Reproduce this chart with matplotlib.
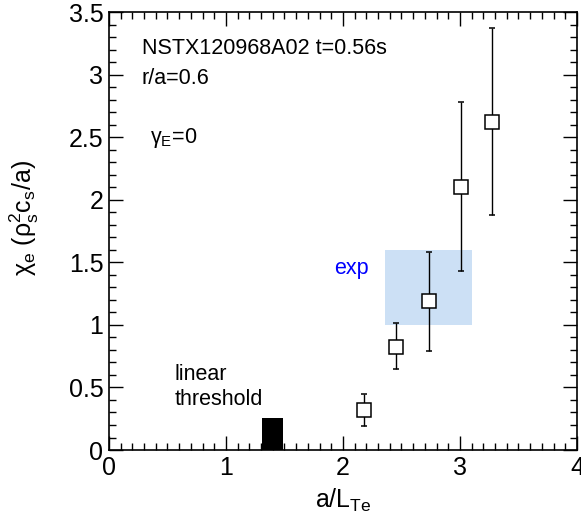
import matplotlib
matplotlib.use("Agg")
import matplotlib.pyplot as plt
import matplotlib.patches as patches
from matplotlib.ticker import MultipleLocator

plt.rcParams['font.family'] = ['Liberation Sans', 'DejaVu Sans']
plt.rcParams['mathtext.fontset'] = 'custom'
plt.rcParams['mathtext.rm'] = 'Liberation Sans'
plt.rcParams['mathtext.it'] = 'Liberation Sans'
plt.rcParams['mathtext.default'] = 'regular'

# data
grad_te = [2.18, 2.456, 2.732, 3.006, 3.276]
chi_e = [0.32, 0.826, 1.19, 2.105, 2.624]
err_lo = [0.194, 0.645, 0.79, 1.43, 1.878]
err_hi = [0.445, 1.013, 1.58, 2.779, 3.376]

exp_x = [2.36, 3.105]
exp_y = [1.0, 1.6]
thr_x = [1.31, 1.49]
thr_y = [0.0, 0.253]

fig = plt.figure(figsize=(5.81, 5.22), dpi=100)
ax = fig.add_axes([0.1876, 0.1379, 0.8055, 0.8391])

# experimental range box
ax.add_patch(patches.Rectangle((exp_x[0], exp_y[0]), exp_x[1] - exp_x[0], exp_y[1] - exp_y[0],
                               facecolor='#cce0f5', edgecolor='none', zorder=1))
# linear threshold block
ax.add_patch(patches.Rectangle((thr_x[0], thr_y[0]), thr_x[1] - thr_x[0], thr_y[1] - thr_y[0],
                               facecolor='black', edgecolor='none', zorder=2))

yerr = [[c - l for c, l in zip(chi_e, err_lo)], [h - c for c, h in zip(chi_e, err_hi)]]
ax.errorbar(grad_te, chi_e, yerr=yerr, fmt='s', mfc='white', mec='black', ms=9.5, mew=1.1,
            ecolor='black', elinewidth=1.0, capsize=2, capthick=1.0, zorder=3)

ax.set_xlim(0, 4)
ax.set_ylim(0, 3.5)
ax.xaxis.set_major_locator(MultipleLocator(1))
ax.xaxis.set_minor_locator(MultipleLocator(0.1))
ax.yaxis.set_major_locator(MultipleLocator(0.5))
ax.yaxis.set_minor_locator(MultipleLocator(0.1))
ax.xaxis.set_major_formatter(plt.FuncFormatter(lambda v, p: '%g' % v))
ax.yaxis.set_major_formatter(plt.FuncFormatter(lambda v, p: '%g' % v))
ax.tick_params(which='both', direction='in', top=True, right=True, labelsize=18, width=1.0)
ax.tick_params(which='major', length=10, pad=4)
ax.tick_params(which='minor', length=5)
for s in ax.spines.values():
    s.set_linewidth(1.2)

ax.set_xlabel('a/L$_{Te}$', fontsize=18)
ax.xaxis.set_label_coords(0.5, -0.085)
ax.set_ylabel(r'$\chi_e$ ($\rho_s^2c_s$/a)', fontsize=18)
ax.yaxis.set_label_coords(-0.145, 0.53)

ax.text(0.28, 3.21, 'NSTX120968A02 t=0.56s', fontsize=15.5, va='center')
ax.text(0.28, 2.97, 'r/a=0.6', fontsize=15.5, va='center')
ax.text(0.35, 2.49, r'$\gamma_E$=0', fontsize=15.5, va='center')
ax.text(0.56, 0.6, 'linear', fontsize=15.5, va='center')
ax.text(0.56, 0.4, 'threshold', fontsize=15.5, va='center')
ax.text(1.92, 1.45, 'exp', fontsize=15.5, va='center', color='blue')

fig.savefig('out.png', dpi=100)
